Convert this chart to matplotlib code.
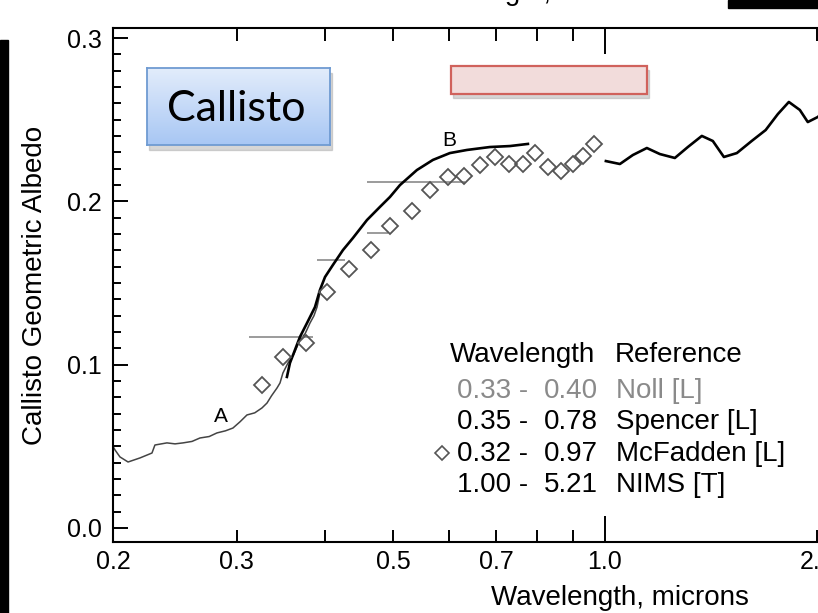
import numpy as np
import matplotlib
matplotlib.use("Agg")
import matplotlib.pyplot as plt
from matplotlib.patches import Rectangle
from matplotlib.lines import Line2D
from matplotlib.colors import LinearSegmentedColormap
from matplotlib.ticker import FixedLocator, FuncFormatter

# --- data (wavelength in microns, geometric albedo) ---
noll_wl = [0.2000, 0.2013, 0.2046, 0.2101, 0.2185, 0.2272, 0.2294, 0.2386, 0.2450,
           0.2515, 0.2590, 0.2658, 0.2740, 0.2810, 0.2890, 0.2961, 0.3030, 0.3100,
           0.3180, 0.3256, 0.3310, 0.3360, 0.3420, 0.3454, 0.3487, 0.3545, 0.3610,
           0.3687, 0.3750, 0.3810, 0.3860, 0.3899, 0.3936]
noll_alb = [0.0500, 0.0478, 0.0435, 0.0404, 0.0429, 0.0459, 0.0508, 0.0521, 0.0515,
            0.0521, 0.0530, 0.0551, 0.0560, 0.0582, 0.0595, 0.0612, 0.0650, 0.0692,
            0.0705, 0.0735, 0.0765, 0.0810, 0.0857, 0.0888, 0.0949, 0.1010, 0.1060,
            0.1151, 0.1190, 0.1255, 0.1300, 0.1353, 0.1439]

spencer_wl = [0.3533, 0.3568, 0.3687, 0.3773, 0.3873, 0.3936, 0.4002, 0.4107, 0.4244,
              0.4385, 0.4591, 0.4789, 0.4949, 0.5114, 0.5405, 0.5696, 0.6021, 0.6366,
              0.6863, 0.7329, 0.7773]
spencer_alb = [0.0925, 0.1010, 0.1170, 0.1255, 0.1353, 0.1457, 0.1537, 0.1611, 0.1702,
               0.1776, 0.1886, 0.1966, 0.2027, 0.2100, 0.2192, 0.2254, 0.2296, 0.2315,
               0.2333, 0.2339, 0.2352]

mcfadden_wl = [0.3256, 0.3487, 0.3760, 0.4027, 0.4328, 0.4652, 0.4949, 0.5318, 0.5640,
               0.5981, 0.6306, 0.6643, 0.6976, 0.7303, 0.7646, 0.7951, 0.8297, 0.8657,
               0.9003, 0.9302, 0.9649]
mcfadden_alb = [0.0876, 0.1047, 0.1133, 0.1445, 0.1586, 0.1702, 0.1849, 0.1941, 0.2070,
                0.2149, 0.2156, 0.2223, 0.2272, 0.2229, 0.2229, 0.2296, 0.2211, 0.2186,
                0.2229, 0.2278, 0.2352]

nims_wl = [1.0031, 1.0502, 1.0956, 1.1470, 1.1968, 1.2570, 1.3116, 1.3730, 1.4233,
           1.4758, 1.5397, 1.6163, 1.6919, 1.7608, 1.8252, 1.8921, 1.9419, 2.0065, 2.0730]
nims_alb = [0.2247, 0.2229, 0.2284, 0.2327, 0.2290, 0.2266, 0.2333, 0.2401, 0.2370,
            0.2272, 0.2296, 0.2370, 0.2437, 0.2535, 0.2609, 0.2560, 0.2486, 0.2517, 0.2572]

# broadband filter bars: (start, end, albedo)
bar_lo = [0.3121, 0.3899, 0.4591, 0.4591]
bar_hi = [0.3846, 0.4272, 0.4916, 0.6325]
bar_alb = [0.1170, 0.1641, 0.1806, 0.2119]

xticks_labeled = {0.2: "0.2", 0.3: "0.3", 0.5: "0.5", 0.7: "0.7", 1.0: "1.0", 2.0: "2.0"}
xminor = [0.2, 0.3, 0.4, 0.5, 0.6, 0.7, 0.8, 0.9, 2.0, 3.0, 4.0, 5.0]
xmajor = [1.0]
yticks = [0.0, 0.1, 0.2, 0.3]
ytick_labels = ["0.0", "0.1", "0.2", "0.3"]

legend_lo = ["0.33 -", "0.35 -", "0.32 -", "1.00 -"]
legend_hi = ["0.40", "0.78", "0.97", "5.21"]
legend_ref = ["Noll [L]", "Spencer [L]", "McFadden [L]", "NIMS [T]"]
legend_col = ["#8a8a8a", "black", "black", "black"]

W, H = 818, 613
plt.rcParams['font.family'] = ['Liberation Sans', 'DejaVu Sans']


def fx(x):
    return x / W


def fy(y):
    return 1 - y / H


fig = plt.figure(figsize=(W / 100, H / 100), dpi=100, facecolor="white")

# main axes extends past the right edge of the picture, as in the cropped original
ax = fig.add_axes([fx(113), fy(542), (1126 - 113) / W, (542 - 28) / H])
ax.set_xscale("log")
ax.set_xlim(0.2, 5.5)
ax.set_ylim(-0.0086, 0.3062)

ax.plot(noll_wl, noll_alb, color="#444444", lw=1.1)
ax.hlines(bar_alb, bar_lo, bar_hi, color="#8a8a8a", lw=1.2)
ax.plot(spencer_wl, spencer_alb, color="black", lw=1.9)
ax.plot(mcfadden_wl, mcfadden_alb, ls="none", marker="D", ms=8, mfc="none",
        mec="#555555", mew=1.3)
ax.plot(nims_wl, nims_alb, color="black", lw=1.9)

ax.text(0.2845, 0.068, "A", fontsize=15, ha="center", va="center")
ax.text(0.6003, 0.237, "B", fontsize=15, ha="center", va="center")

# ticks
ax.xaxis.set_major_locator(FixedLocator(xmajor))
ax.xaxis.set_minor_locator(FixedLocator(xminor))
fmt = FuncFormatter(lambda v, p: xticks_labeled.get(round(v, 3), ""))
ax.xaxis.set_major_formatter(fmt)
ax.xaxis.set_minor_formatter(fmt)
ax.set_yticks(yticks)
ax.set_yticklabels(ytick_labels)
ax.yaxis.set_minor_locator(FixedLocator(np.arange(0.0, 0.305, 0.01)))

ax.tick_params(which="both", direction="in", top=True, right=True, labelsize=18, width=1.4)
ax.tick_params(axis="x", which="major", length=19, pad=6)
ax.tick_params(axis="x", which="minor", length=9, pad=6)
ax.tick_params(axis="y", which="major", length=11, pad=8)
ax.tick_params(axis="y", which="minor", length=5.5)
for s in ax.spines.values():
    s.set_linewidth(1.5)

ax.set_xlabel("Wavelength, microns", fontsize=20, labelpad=8)
ax.set_ylabel("Callisto Geometric Albedo", fontsize=20, labelpad=14)

# legend block
fig.text(fx(450), fy(362), "Wavelength", fontsize=20, va="baseline")
fig.text(fx(615), fy(362), "Reference", fontsize=20, va="baseline")
row_y = [398, 429, 461, 492]
for yy, lo, hi, ref, c in zip(row_y, legend_lo, legend_hi, legend_ref, legend_col):
    fig.text(fx(457), fy(yy), lo, fontsize=20, va="baseline", color=c)
    fig.text(fx(544), fy(yy), hi, fontsize=20, va="baseline", color=c)
    fig.text(fx(616), fy(yy), ref, fontsize=20, va="baseline", color=c)
fig.add_artist(Line2D([fx(442)], [fy(453)], marker="D", ms=7.5, mfc="none",
                      mec="#555555", mew=1.2, transform=fig.transFigure))

# cropped fragments of the slide
fig.add_artist(Rectangle((0, 0), fx(8), 1 - 40 / H, transform=fig.transFigure,
                         color="black", zorder=10))
fig.add_artist(Rectangle((fx(728), fy(8)), fx(90), 8 / H, transform=fig.transFigure,
                         color="black", zorder=10))
fig.text(fx(398), fy(0.5), "Wavelength, microns", fontsize=20, va="baseline")

# pink empty box with shadow
fig.add_artist(Rectangle((fx(453), fy(98)), fx(196), 28 / H, transform=fig.transFigure,
                         color="#9a9a9a", alpha=0.4, zorder=4))
fig.add_artist(Rectangle((fx(451), fy(94)), fx(196), 28 / H, transform=fig.transFigure,
                         facecolor="#f2dcdb", edgecolor="#d0625c", lw=1.6, zorder=5))

# Callisto label box with gradient
fig.add_artist(Rectangle((fx(149), fy(150)), fx(183), 77 / H, transform=fig.transFigure,
                         color="#9a9a9a", alpha=0.4, zorder=4))
bax = fig.add_axes([fx(147), fy(145), fx(183), 77 / H], zorder=5)
grad = LinearSegmentedColormap.from_list("g", ["#e2ecfb", "#a8c7f4"])
bax.imshow(np.linspace(0, 1, 64).reshape(-1, 1), aspect="auto", cmap=grad,
           extent=(0, 1, 0, 1), origin="upper")
bax.set_xticks([])
bax.set_yticks([])
for s in bax.spines.values():
    s.set_color("#6f9bd2")
    s.set_linewidth(1.3)
bax.text(0.49, 0.47, "Callisto", fontsize=31, family="Lato", ha="center", va="center",
         transform=bax.transAxes)

fig.savefig("out.png", dpi=100, facecolor="white")
